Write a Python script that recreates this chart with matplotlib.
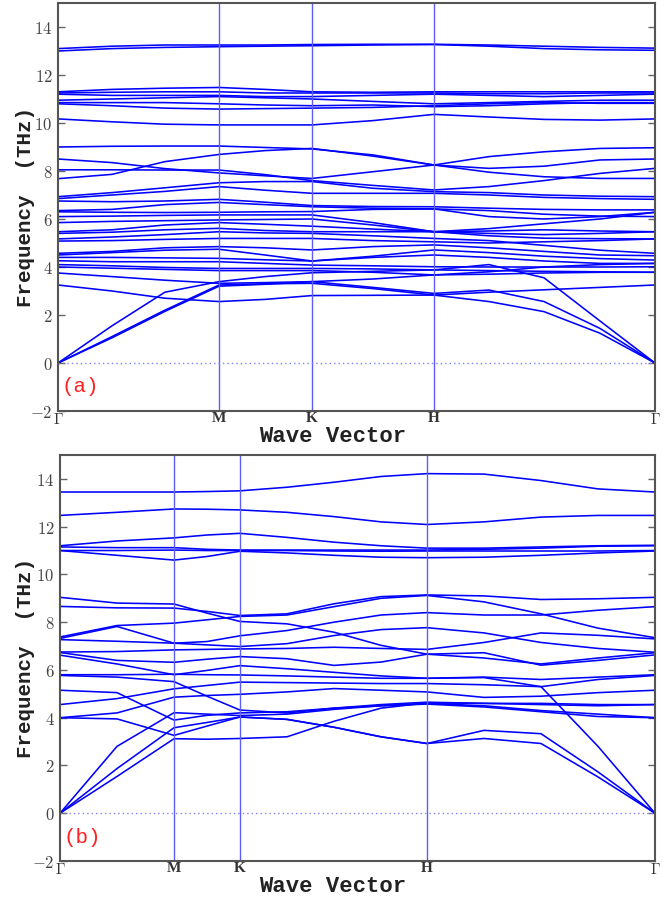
import matplotlib
matplotlib.use("Agg")
import matplotlib.pyplot as plt

plt.rcParams["mathtext.fontset"] = "cm"

# ---- data -------------------------------------------------------------
sym_labels = [r"$\Gamma$", "M", "K", "H", r"$\Gamma$"]
yticks = [-2, 0, 2, 4, 6, 8, 10, 12, 14]

# panel (a): path coordinate of the sampled points and of the symmetry points
sym_a = [0.0, 0.2697, 0.4255, 0.6298, 1.0]
k_a = [0.0, 0.0905, 0.179, 0.2697, 0.3467, 0.4255, 0.5276, 0.6298, 0.7219, 0.8141, 0.9079, 1.0]

a_upper = [
    [13.10, 13.20, 13.25, 13.25, 13.25, 13.27, 13.28, 13.28, 13.25, 13.20, 13.15, 13.12],
    [13.00, 13.10, 13.15, 13.18, 13.20, 13.22, 13.25, 13.27, 13.20, 13.10, 13.05, 13.03],
    [11.30, 11.40, 11.45, 11.48, 11.40, 11.30, 11.28, 11.30, 11.30, 11.30, 11.30, 11.30],
    [11.25, 11.28, 11.30, 11.30, 11.25, 11.25, 11.25, 11.25, 11.22, 11.22, 11.25, 11.25],
    [11.20, 11.15, 11.15, 11.15, 11.10, 11.10, 11.15, 11.20, 11.15, 11.10, 11.15, 11.20],
    [10.95, 11.00, 11.05, 11.10, 11.05, 11.00, 10.90, 10.80, 10.85, 10.90, 10.95, 10.95],
    [10.85, 10.85, 10.85, 10.80, 10.75, 10.72, 10.75, 10.68, 10.72, 10.80, 10.85, 10.85],
    [10.80, 10.72, 10.62, 10.58, 10.60, 10.62, 10.65, 10.72, 10.80, 10.85, 10.82, 10.82],
    [10.17, 10.05, 9.95, 9.92, 9.92, 9.92, 10.10, 10.36, 10.25, 10.15, 10.12, 10.17],
]

a_middle = [
    [9.00, 9.03, 9.04, 9.04, 8.98, 8.92, 8.67, 8.25, 8.60, 8.80, 8.94, 8.97],
    [7.68, 7.86, 8.39, 8.69, 8.85, 8.94, 8.62, 8.25, 8.11, 8.20, 8.46, 8.50],
    [8.50, 8.35, 8.10, 7.92, 7.80, 7.69, 7.97, 8.25, 7.95, 7.76, 7.69, 7.69],
    [8.05, 8.05, 8.04, 8.04, 7.85, 7.60, 7.40, 7.21, 7.35, 7.60, 7.90, 8.11],
    [6.93, 7.10, 7.30, 7.51, 7.56, 7.56, 7.28, 7.14, 7.10, 7.00, 6.95, 6.93],
    [6.85, 7.00, 7.15, 7.35, 7.20, 7.07, 7.07, 7.07, 7.00, 6.90, 6.85, 6.82],
    [6.75, 6.72, 6.75, 6.82, 6.70, 6.56, 6.52, 6.51, 6.45, 6.40, 6.38, 6.38],
    [6.35, 6.40, 6.60, 6.69, 6.60, 6.51, 6.45, 6.42, 6.10, 6.00, 6.10, 6.28],
    [6.30, 6.28, 6.27, 6.28, 6.30, 6.31, 6.40, 6.42, 6.35, 6.20, 6.12, 6.10],
    [6.10, 6.12, 6.15, 6.17, 6.17, 6.17, 5.85, 5.47, 5.50, 5.55, 5.50, 5.47],
    [5.85, 5.90, 5.93, 5.96, 5.98, 6.00, 5.75, 5.47, 5.60, 5.80, 6.00, 6.28],
    [5.47, 5.55, 5.75, 5.85, 5.78, 5.70, 5.58, 5.47, 5.40, 5.35, 5.40, 5.47],
    [5.40, 5.45, 5.55, 5.61, 5.52, 5.47, 5.47, 5.47, 5.30, 5.20, 5.18, 5.17],
    [5.17, 5.25, 5.35, 5.47, 5.42, 5.40, 5.30, 5.19, 5.10, 4.90, 4.70, 4.57],
    [5.08, 5.10, 5.15, 5.19, 5.19, 5.19, 5.10, 5.05, 5.00, 5.05, 5.10, 5.17],
    [4.57, 4.65, 4.80, 4.85, 4.80, 4.71, 4.85, 4.92, 4.80, 4.65, 4.50, 4.47],
    [4.50, 4.60, 4.70, 4.74, 4.50, 4.25, 4.45, 4.71, 4.60, 4.45, 4.35, 4.29],
    [4.40, 4.40, 4.38, 4.36, 4.30, 4.25, 4.40, 4.50, 4.40, 4.25, 4.15, 4.15],
    [4.26, 4.22, 4.22, 4.22, 4.15, 4.08, 4.05, 4.01, 4.00, 4.00, 4.00, 4.01],
    [4.10, 4.05, 3.98, 3.94, 3.94, 3.94, 3.92, 3.88, 3.85, 3.82, 3.80, 3.78],
    [4.00, 3.95, 3.90, 3.85, 3.85, 3.85, 3.78, 3.67, 3.70, 3.75, 3.78, 3.78],
    [3.75, 3.60, 3.45, 3.32, 3.35, 3.39, 3.50, 3.67, 3.80, 4.00, 4.10, 4.15],
    [3.25, 3.00, 2.70, 2.56, 2.65, 2.81, 2.82, 2.83, 2.95, 3.05, 3.15, 3.25],
]

a_acoustic = [
    [0.0, 1.55, 2.95, 3.39, 3.60, 3.76, 3.82, 3.88, 4.10, 3.55, 1.75, 0.0],
    [0.0, 1.10, 2.20, 3.25, 3.30, 3.32, 3.10, 2.83, 2.56, 2.14, 1.24, 0.0],
    [0.0, 1.05, 2.15, 3.20, 3.28, 3.39, 3.15, 2.90, 3.04, 2.56, 1.44, 0.0],
]

# panel (b)
sym_b = [0.0, 0.1916, 0.3025, 0.6168, 1.0]
k_b = [0.0, 0.0958, 0.1916, 0.2471, 0.3025, 0.3815, 0.4605, 0.5395, 0.6168,
       0.7126, 0.8084, 0.9042, 1.0]

b_upper = [
    [13.45, 13.45, 13.45, 13.47, 13.50, 13.65, 13.86, 14.10, 14.22, 14.20, 13.93, 13.58, 13.45],
    [12.47, 12.60, 12.74, 12.73, 12.70, 12.60, 12.42, 12.20, 12.09, 12.20, 12.40, 12.47, 12.47],
    [11.20, 11.40, 11.53, 11.65, 11.72, 11.55, 11.35, 11.20, 11.10, 11.10, 11.15, 11.20, 11.22],
    [11.15, 11.12, 11.12, 11.05, 11.02, 11.02, 11.02, 11.02, 11.02, 11.05, 11.10, 11.18, 11.20],
    [11.00, 11.00, 11.02, 11.00, 11.00, 11.00, 10.98, 10.97, 10.98, 10.98, 10.98, 10.98, 11.00],
    [11.00, 10.80, 10.60, 10.75, 10.97, 10.90, 10.80, 10.72, 10.70, 10.72, 10.80, 10.90, 10.98],
]

b_middle = [
    [9.04, 8.80, 8.76, 8.38, 8.03, 7.93, 7.58, 7.03, 6.66, 6.72, 6.20, 6.40, 6.63],
    [8.66, 8.60, 8.59, 8.45, 8.28, 8.35, 8.77, 9.07, 9.14, 9.10, 8.95, 8.98, 9.04],
    [7.38, 7.86, 7.96, 8.10, 8.24, 8.30, 8.65, 9.00, 9.12, 8.85, 8.35, 7.75, 7.35],
    [7.32, 7.82, 7.12, 7.19, 7.43, 7.65, 8.00, 8.30, 8.40, 8.30, 8.30, 8.50, 8.65],
    [7.27, 7.20, 7.12, 7.05, 6.98, 7.10, 7.44, 7.69, 7.77, 7.55, 7.15, 6.90, 6.74],
    [6.75, 6.77, 6.84, 6.86, 6.88, 6.90, 6.95, 6.90, 6.86, 7.15, 7.55, 7.45, 7.30],
    [6.73, 6.40, 6.32, 6.45, 6.56, 6.47, 6.19, 6.33, 6.66, 6.50, 6.25, 6.50, 6.72],
    [6.62, 6.25, 5.80, 5.98, 6.18, 6.05, 5.90, 5.75, 5.65, 5.70, 5.60, 5.70, 5.80],
    [5.80, 5.80, 5.82, 5.80, 5.79, 5.75, 5.70, 5.65, 5.65, 5.68, 5.30, 2.80, 0.00],
    [4.55, 4.80, 5.21, 5.35, 5.49, 5.47, 5.45, 5.43, 5.43, 5.38, 5.30, 5.60, 5.77],
    [4.00, 4.20, 4.86, 4.93, 4.98, 5.08, 5.22, 5.15, 5.08, 4.85, 4.90, 5.05, 5.15],
    [5.77, 5.70, 5.51, 4.90, 4.32, 4.20, 4.40, 4.55, 4.65, 4.60, 4.60, 4.55, 4.55],
    [5.15, 5.05, 3.90, 4.10, 4.20, 4.25, 4.40, 4.50, 4.57, 4.45, 4.25, 4.05, 4.00],
    [4.00, 3.95, 3.26, 3.65, 4.03, 3.93, 3.60, 3.20, 2.92, 3.47, 3.33, 1.73, 0.00],
]

b_acoustic = [
    [0.0, 2.80, 4.21, 4.15, 4.09, 4.15, 4.35, 4.50, 4.60, 4.50, 4.30, 4.15, 4.00],
    [0.0, 1.87, 3.58, 3.80, 4.03, 3.93, 3.60, 3.20, 2.92, 3.13, 2.92, 1.52, 0.00],
    [0.0, 1.54, 3.12, 3.10, 3.13, 3.20, 3.85, 4.40, 4.62, 4.60, 4.55, 4.50, 4.55],
]


# ---- drawing ----------------------------------------------------------
def draw_panel(ax, k, sym, groups, tag, ylab_x, xlab_pos):
    for grp in groups:
        for band in grp:
            ax.plot(k, band, color="#0000ff", lw=1.15, solid_capstyle="round")
    for s in sym[1:-1]:
        ax.axvline(s, color="#5c5cff", lw=1.0)
    ax.axhline(0, color="#8080ff", lw=1.0, ls=(0, (1, 2.2)))

    ax.set_xlim(0, 1)
    ax.set_ylim(-2, 15)
    ax.set_yticks(yticks)
    ax.set_yticklabels(["$%d$" % v if v >= 0 else "$-%d$" % -v for v in yticks],
                       fontsize=12, color="#444444")
    ax.tick_params(axis="y", direction="in", left=True, right=True, length=5,
                   width=1, color="#666666", pad=4)
    ax.set_xticks(sym)
    ax.set_xticklabels(sym_labels, fontfamily="Liberation Serif", fontweight="bold",
                       fontsize=11, color="#333333")
    ax.tick_params(axis="x", length=0, pad=1)
    for sp in ax.spines.values():
        sp.set_color("#555555")
        sp.set_linewidth(1.5)

    ax.set_ylabel("Frequency  (THz)", fontfamily="Liberation Mono", fontweight="bold",
                  fontsize=15, color="#222222")
    ax.yaxis.set_label_coords(ylab_x, 0.5)
    ax.set_xlabel("Wave Vector", fontfamily="Liberation Mono", fontweight="bold",
                  fontsize=16, color="#222222", va="baseline")
    ax.xaxis.set_label_coords(*xlab_pos)

    ax.text(0.006, -1.0, tag, color="#ff2020", fontfamily="Liberation Mono",
            fontsize=15, va="center", ha="left")


fig = plt.figure(figsize=(6.68, 9.0), dpi=100)
ax_a = fig.add_axes([58 / 668, 1 - 411 / 900, 597 / 668, 408 / 900])
ax_b = fig.add_axes([60 / 668, 1 - 861 / 900, 595 / 668, 406 / 900])

draw_panel(ax_a, k_a, sym_a, [a_upper, a_middle, a_acoustic], "(a)", -0.038, (0.46, -0.077))
draw_panel(ax_b, k_b, sym_b, [b_upper, b_middle, b_acoustic], "(b)", -0.042, (0.459, -0.077))

fig.savefig("out.png", dpi=100)
